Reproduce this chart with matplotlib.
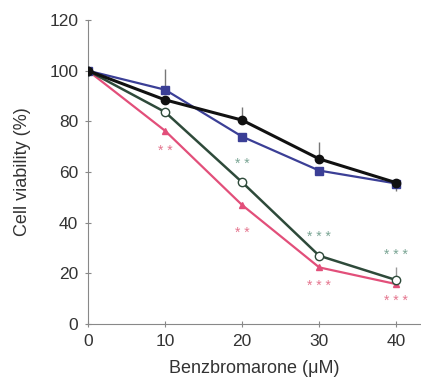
import matplotlib.pyplot as plt

conc = [0, 10, 20, 30, 40]
black = [100, 88.5, 80.5, 65.2, 55.8]
black_err = [0, 0, 5.3, 6.6, 0]
blue = [100, 92.5, 74, 60.6, 55.5]
blue_err_up = [0, 8.3, 0, 0, 0]
blue_err_dn = [0, 0, 0, 0, 3]
green = [100, 83.7, 56, 27, 17.4]
green_err = [0, 0, 0, 2, 5]
pink = [100, 76.3, 47, 22.4, 15.8]

# significance marks: (x, y, text, color)
stars = [(10, 68.5, "* *", "#e5768f"), (20, 63, "* *", "#7aa594"),
         (20, 36, "* *", "#e5768f"), (30, 34.5, "* * *", "#7aa594"),
         (30, 15, "* * *", "#e5768f"), (40, 27.3, "* * *", "#7aa594"),
         (40, 9, "* * *", "#e5768f")]

plt.rcParams['font.family'] = ['Liberation Sans', 'DejaVu Sans']
fig = plt.figure(figsize=(4.21, 3.85), dpi=100)
ax = fig.add_axes([0.209, 0.158, 0.789, 0.79])

zero = [0] * 5
ax.errorbar(conc, pink, color="#e24f7a", lw=1.6,
            marker="^", ms=4, mfc="#e24f7a", mec="#e24f7a", zorder=2)
ax.errorbar(conc, green, yerr=[zero, green_err], color="#2e4a3a", lw=1.8,
            marker="o", ms=6, mfc="white", mec="#2e4a3a", ecolor="#999999",
            elinewidth=1, zorder=3)
ax.errorbar(conc, blue, yerr=[blue_err_dn, blue_err_up], color="#3b3f96",
            lw=1.6, marker="s", ms=6, mfc="#3b3f96", mec="#3b3f96",
            ecolor="#777777", elinewidth=1, zorder=4)
ax.errorbar(conc, black, yerr=[zero, black_err], color="#111111", lw=2.2,
            marker="o", ms=6, ecolor="#777777", elinewidth=1, zorder=5)

for x, y, t, c in stars:
    ax.text(x, y, t, color=c, ha="center", va="center", fontsize=10)

ax.set_xlim(0, 43.1)
ax.set_ylim(0, 120)
ax.set_xticks(conc)
ax.set_yticks([0, 20, 40, 60, 80, 100, 120])
for s in ["top", "right"]:
    ax.spines[s].set_visible(False)
for s in ["left", "bottom"]:
    ax.spines[s].set_color("#888888")
ax.tick_params(direction="inout", length=4, color="#888888", labelsize=12.5,
               labelcolor="#333333", pad=5)
ax.set_xlabel("Benzbromarone (\u03bcM)", fontsize=13, color="#333333", labelpad=8)
ax.set_ylabel("Cell viability (%)", fontsize=13, color="#333333", labelpad=13)

fig.savefig("out.png", dpi=100)
